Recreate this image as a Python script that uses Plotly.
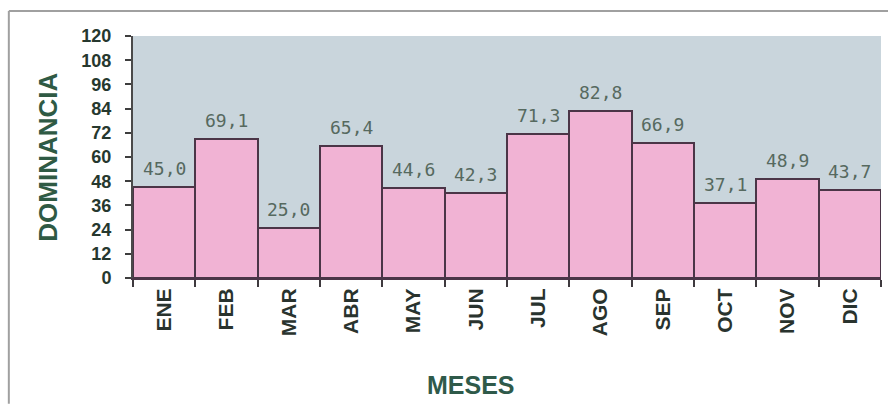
import plotly.graph_objects as go

months = ["ENE", "FEB", "MAR", "ABR", "MAY", "JUN", "JUL", "AGO", "SEP", "OCT", "NOV", "DIC"]
dominancia = [45.0, 69.1, 25.0, 65.4, 44.6, 42.3, 71.3, 82.8, 66.9, 37.1, 48.9, 43.7]
y_ticks = [0, 12, 24, 36, 48, 60, 72, 84, 96, 108, 120]

labels = [f"{v:.1f}".replace(".", ",") for v in dominancia]

fig = go.Figure()
fig.add_trace(go.Bar(
    x=months, y=dominancia,
    marker=dict(color="#f1b3d4", line=dict(color="#4b3547", width=2)),
    hoverinfo="skip",
))

for m, v, t in zip(months, dominancia, labels):
    fig.add_annotation(x=m, y=v, text=t, showarrow=False, yanchor="bottom", yshift=6,
                       font=dict(family="DejaVu Sans Mono", size=18, color="#56695f"))

fig.add_annotation(xref="paper", yref="paper", x=-0.114, y=0.5, text="<b>DOMINANCIA</b>",
                   textangle=-90, showarrow=False, xanchor="center", yanchor="middle",
                   font=dict(family="Arial, Liberation Sans", size=26, color="#2f5a44"))
fig.add_annotation(xref="paper", yref="paper", x=0.452, y=-0.442, text="<b>MESES</b>",
                   showarrow=False, xanchor="center", yanchor="middle",
                   font=dict(family="Arial, Liberation Sans", size=25, color="#2f5a4a"))

# outer frame
fig.add_shape(type="line", xref="paper", yref="paper", x0=-0.166, x1=1.01, y0=1.103, y1=1.103,
              line=dict(color="#a0a0a0", width=2))
fig.add_shape(type="line", xref="paper", yref="paper", x0=-0.166, x1=-0.166, y0=1.103, y1=-0.52,
              line=dict(color="#a0a0a0", width=2))

fig.update_layout(
    width=888, height=404,
    margin=dict(l=133, r=7, t=36, b=126),
    paper_bgcolor="white",
    plot_bgcolor="#c9d5dc",
    bargap=0,
    showlegend=False,
    xaxis=dict(
        type="category", tickson="boundaries", ticks="outside", ticklen=7, tickwidth=2,
        tickcolor="#3e3a3e", showline=True, linecolor="#4b3547", linewidth=2,
        tickangle=-90, showgrid=False,
        tickfont=dict(family="Arial, Liberation Sans", size=21, color="#29332e", weight="bold"),
    ),
    yaxis=dict(
        range=[0, 120], tickvals=y_ticks, ticks="outside", ticklen=6, tickwidth=2,
        tickcolor="#3e3e3e", showline=True, linecolor="#4a4a4a", linewidth=2,
        showgrid=False, zeroline=False, ticklabelstandoff=10,
        tickfont=dict(family="Arial, Liberation Sans", size=18, color="#26382e", weight="bold"),
    ),
)

fig.write_html("out.html", config={"displayModeBar": False},
               post_script="document.body.style.margin='0';")
